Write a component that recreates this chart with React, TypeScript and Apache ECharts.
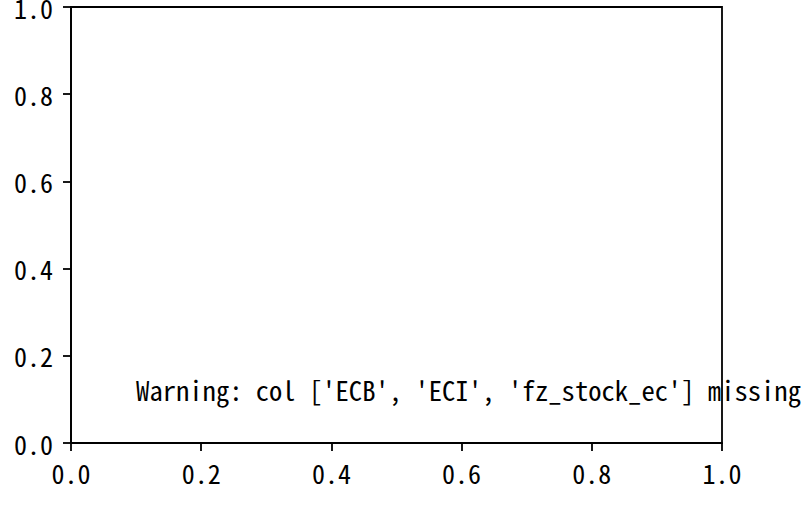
import React, { useEffect, useRef } from "react";
import * as echarts from "echarts";

// Axis tick values (both axes run from 0 to 1 in steps of 0.2)
const xTickValues = [0, 0.2, 0.4, 0.6, 0.8, 1.0];
const yTickValues = [0, 0.2, 0.4, 0.6, 0.8, 1.0];
const tickStep = 0.2;

// The only content: a warning text placed at data coordinates
const warningText = "Warning: col ['ECB', 'ECI', 'fz_stock_ec'] missing";
const warningAt = [0.1, 0.1];

const FONT = "'Noto Sans Mono CJK SC', 'Noto Sans CJK SC', monospace";
const TICK_FONT_SIZE = 26;
const TEXT_FONT_SIZE = 26.6;
const LINE_W = 1.8;

export default function App() {
  const ref = useRef<HTMLDivElement>(null);

  useEffect(() => {
    if (!ref.current) return;
    const chart = echarts.init(ref.current, undefined, { renderer: "svg" });

    const axisCommon = {
      type: "value" as const,
      interval: tickStep,
      splitLine: { show: false },
      axisLine: { show: true, onZero: false, lineStyle: { color: "#000", width: LINE_W } },
      axisTick: { show: true, inside: false, length: 8, lineStyle: { color: "#000", width: LINE_W } },
    };

    chart.setOption({
      animation: false,
      backgroundColor: "#fff",
      grid: {
        left: 71,
        right: 84,
        top: 7,
        bottom: 70,
        show: true,
        borderColor: "#000",
        borderWidth: LINE_W,
        backgroundColor: "transparent",
        containLabel: false,
        outerBoundsMode: "none",
      },
      xAxis: {
        ...axisCommon,
        min: xTickValues[0],
        max: xTickValues[xTickValues.length - 1],
        axisLabel: {
          margin: 16,
          color: "#000",
          fontFamily: FONT,
          fontSize: TICK_FONT_SIZE,
          formatter: (v: number) => v.toFixed(1),
        },
      },
      yAxis: {
        ...axisCommon,
        min: yTickValues[0],
        max: yTickValues[yTickValues.length - 1],
        axisLabel: {
          margin: 18,
          color: "#000",
          fontFamily: FONT,
          fontSize: TICK_FONT_SIZE,
          formatter: (v: number) => v.toFixed(1),
        },
      },
      series: [
        {
          type: "scatter",
          data: [],
          silent: true,
        },
      ],
    });

    const p = chart.convertToPixel({ gridIndex: 0 }, warningAt) as number[];
    if (p) {
      chart.setOption({
        graphic: [
          {
            type: "text",
            x: p[0],
            y: p[1] - 0.36 * TEXT_FONT_SIZE,
            z: 100,
            style: {
              text: warningText,
              fill: "#000",
              fontFamily: FONT,
              fontSize: TEXT_FONT_SIZE,
              align: "left",
              verticalAlign: "middle",
            },
          },
        ],
      });
    }

    return () => chart.dispose();
  }, []);

  return (
    <div
      ref={ref}
      style={{ position: "absolute", left: 0, top: 0, width: 806, height: 513, background: "#fff" }}
    />
  );
}
